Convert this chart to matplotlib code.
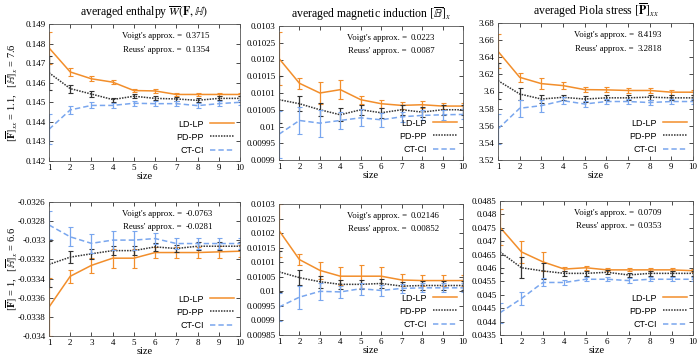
import matplotlib
matplotlib.use("Agg")
import matplotlib.pyplot as plt
import numpy as np

plt.rcParams['font.family'] = ['Liberation Serif', 'DejaVu Serif']
plt.rcParams['mathtext.fontset'] = 'stix'

sizes = [1, 2, 3, 4, 5, 6, 7, 8, 9, 10]
series_names = ["LD-LP", "PD-PP", "CT-CI"]

# top row: F_xx = 1.1, H_x = 7.6
enth_top = [
    [0.14778, 0.14655, 0.14620, 0.14603, 0.14560, 0.14558, 0.14540, 0.14540, 0.14540, 0.14540],
    [0.14651, 0.14570, 0.14542, 0.14514, 0.14531, 0.14520, 0.14517, 0.14510, 0.14520, 0.14520],
    [0.14362, 0.14461, 0.14484, 0.14484, 0.14495, 0.14493, 0.14493, 0.14483, 0.14493, 0.14500],
]
enth_top_err = [
    [0.0008, 0.0002, 0.00013, 0.00011, 0.00008, 0.00008, 0.00008, 0.00008, 0.00008, 0.00008],
    [0.00086, 0.0002, 0.00015, 0.0001, 0.0001, 0.0001, 0.0001, 0.0001, 0.0001, 0.0001],
    [0.00077, 0.00022, 0.00015, 0.00012, 0.00012, 0.00012, 0.00012, 0.00012, 0.00012, 0.00012],
]
bind_top = [
    [0.010203, 0.010129, 0.010100, 0.010110, 0.010080, 0.010068, 0.010063, 0.010065, 0.010061, 0.010061],
    [0.010080, 0.010068, 0.010050, 0.010035, 0.010050, 0.010041, 0.010050, 0.010043, 0.010050, 0.010050],
    [0.009977, 0.010018, 0.010010, 0.010018, 0.010026, 0.010020, 0.010029, 0.010033, 0.010035, 0.010036],
]
bind_top_err = [
    [0.00008, 0.000017, 0.000033, 0.000028, 0.000012, 0.000012, 0.00001, 0.00001, 0.00001, 0.00001],
    [0.00007, 0.000022, 0.00002, 0.00002, 0.000015, 0.000015, 0.000015, 0.000015, 0.000015, 0.000015],
    [0.00007, 0.00004, 0.00004, 0.000025, 0.000025, 0.00002, 0.000015, 0.000015, 0.000015, 0.000015],
]
piola_top = [
    [3.6469, 3.6166, 3.6092, 3.6069, 3.6022, 3.6019, 3.6012, 3.6012, 3.5992, 3.5992],
    [3.6127, 3.5971, 3.5912, 3.5932, 3.5912, 3.5926, 3.5926, 3.5934, 3.5926, 3.5926],
    [3.5563, 3.5804, 3.5835, 3.5893, 3.5854, 3.5883, 3.5883, 3.5871, 3.5883, 3.5883],
]
piola_top_err = [
    [0.02, 0.005, 0.006, 0.004, 0.003, 0.003, 0.003, 0.003, 0.003, 0.003],
    [0.021, 0.007, 0.005, 0.003, 0.003, 0.003, 0.003, 0.003, 0.003, 0.003],
    [0.018, 0.01, 0.007, 0.004, 0.004, 0.003, 0.003, 0.003, 0.003, 0.003],
]

# bottom row: F = 1, H_x = 6.6
enth_bot = [
    [-0.033698, -0.033376, -0.033262, -0.033187, -0.033187, -0.033128, -0.033128, -0.033128, -0.033121, -0.033114],
    [-0.033252, -0.033176, -0.033141, -0.033108, -0.033108, -0.033069, -0.033086, -0.033062, -0.033062, -0.033062],
    [-0.032840, -0.032964, -0.033032, -0.032998, -0.032998, -0.032982, -0.033034, -0.033034, -0.033034, -0.033034],
]
enth_bot_err = [
    [0.0003, 0.00007, 0.00008, 0.0001, 0.0001, 0.00006, 0.00006, 0.00006, 0.00006, 0.00006],
    [0.00024, 0.00006, 0.00005, 0.00005, 0.00005, 0.00004, 0.00004, 0.00004, 0.00004, 0.00004],
    [0.00015, 0.0001, 0.0001, 0.0001, 0.0001, 0.00006, 0.00006, 0.00006, 0.00006, 0.00006],
]
bind_bot = [
    [0.010209, 0.010109, 0.010072, 0.010052, 0.010052, 0.010052, 0.010039, 0.010037, 0.010037, 0.010037],
    [0.010067, 0.010047, 0.010033, 0.010024, 0.010024, 0.010027, 0.010018, 0.010020, 0.010020, 0.010020],
    [0.009946, 0.009980, 0.010000, 0.009998, 0.010009, 0.010003, 0.010010, 0.010012, 0.010012, 0.010012],
]
bind_bot_err = [
    [0.00009, 0.000018, 0.00003, 0.00003, 0.00004, 0.00003, 0.00002, 0.000018, 0.000018, 0.000018],
    [0.00007, 0.000025, 0.00002, 0.000015, 0.000015, 0.000015, 0.000015, 0.000015, 0.000015, 0.000015],
    [0.000048, 0.00004, 0.00003, 0.00002, 0.00002, 0.00002, 0.000015, 0.000015, 0.000015, 0.000015],
]
piola_bot = [
    [0.04752, 0.04660, 0.04623, 0.04596, 0.04601, 0.04593, 0.04593, 0.04593, 0.04593, 0.04590],
    [0.04660, 0.04601, 0.04589, 0.04580, 0.04580, 0.04584, 0.04574, 0.04580, 0.04580, 0.04580],
    [0.04433, 0.04486, 0.04546, 0.04546, 0.04558, 0.04558, 0.04553, 0.04558, 0.04558, 0.04558],
]
piola_bot_err = [
    [0.00067, 0.0004, 0.00035, 0.00008, 0.00007, 0.00006, 0.00006, 0.00006, 0.00006, 0.00006],
    [0.0008, 0.0004, 0.0003, 0.0001, 0.00008, 0.00008, 0.00008, 0.00008, 0.00008, 0.00008],
    [0.00037, 0.00025, 0.00015, 0.0001, 0.00008, 0.00008, 0.00008, 0.00008, 0.00008, 0.00008],
]

voigt = ["0.3715", "0.0223", "8.4193", "-0.0763", "0.02146", "0.0709"]
reuss = ["0.1354", "0.0087", "3.2818", "-0.0281", "0.00852", "0.0353"]

titles = [r"averaged enthalpy $\overline{W}(\mathbf{F}, \mathbb{H})$",
          r"averaged magnetic induction $[\overline{\mathbb{B}}]_x$",
          r"averaged Piola stress $[\overline{\mathbf{P}}]_{xx}$",
          "", "", ""]
row_labels = [r"$[\overline{\mathbf{F}}]_{xx}$ = 1.1,   $[\overline{\mathbb{H}}]_x$ = 7.6",
              r"$[\overline{\mathbf{F}}]$ = 1,   $[\overline{\mathbb{H}}]_x$ = 6.6"]

yticks = [
    (np.arange(0.142, 0.14901, 0.001), ["0.142", "0.143", "0.144", "0.145", "0.146", "0.147", "0.148", "0.149"]),
    (np.arange(0.0099, 0.010301, 0.00005), ["0.0099", "0.00995", "0.01", "0.01005", "0.0101", "0.01015", "0.0102", "0.01025", "0.0103"]),
    (np.arange(3.52, 3.6801, 0.02), ["3.52", "3.54", "3.56", "3.58", "3.6", "3.62", "3.64", "3.66", "3.68"]),
    (np.arange(-0.034, -0.03259, 0.0002), ["-0.034", "-0.0338", "-0.0336", "-0.0334", "-0.0332", "-0.033", "-0.0328", "-0.0326"]),
    (np.arange(0.00985, 0.010301, 0.00005), ["0.00985", "0.0099", "0.00995", "0.01", "0.01005", "0.0101", "0.01015", "0.0102", "0.01025", "0.0103"]),
    (np.arange(0.0435, 0.04851, 0.0005), ["0.0435", "0.044", "0.0445", "0.045", "0.0455", "0.046", "0.0465", "0.047", "0.0475", "0.048", "0.0485"]),
]

panels = [(enth_top, enth_top_err), (bind_top, bind_top_err), (piola_top, piola_top_err),
          (enth_bot, enth_bot_err), (bind_bot, bind_bot_err), (piola_bot, piola_bot_err)]

# axes boxes in pixels: left, top, right, bottom
boxes = [(49, 24, 240, 161), (279, 26, 463, 160), (498, 23, 693, 160),
         (49, 202, 240, 336), (279, 204, 463, 335), (500, 201, 693, 335)]

colors = ["#f28e2b", "#333333", "#79a6ee"]
styles = ["-", (0, (1, 0.8)), (0, (3.5, 2))]

W, H = 700, 355
fig = plt.figure(figsize=(7, 3.55), dpi=100)

for k in range(6):
    l, t, r, b = boxes[k]
    ax = fig.add_axes([l / W, 1 - b / H, (r - l) / W, (b - t) / H])
    vals, errs = panels[k]
    lines = []
    for s in range(3):
        ax.errorbar(sizes, vals[s], yerr=errs[s], fmt="none", ecolor=colors[s],
                    elinewidth=0.9, capsize=1.8, capthick=0.8)
        ln, = ax.plot(sizes, vals[s], color=colors[s], ls=styles[s], lw=1.1,
                      label=series_names[s])
        lines.append(ln)
    ax.set_xlim(1, 10)
    ax.set_xticks(sizes)
    tk, tl = yticks[k]
    ax.set_yticks(tk)
    ax.set_yticklabels(tl)
    ax.set_ylim(tk[0], tk[-1])
    ax.tick_params(direction="in", top=True, right=True, labelsize=6.5, length=3, width=0.5, pad=2.5)
    for sp in ax.spines.values():
        sp.set_linewidth(0.6)
        sp.set_color("#555555")
    ax.set_xlabel("size", fontsize=7.5, labelpad=0)
    if titles[k]:
        ax.set_title(titles[k], fontsize=8.5, pad=6)
    ax.text(0.695, 0.91, "Voigt's approx. =", transform=ax.transAxes, fontsize=6.3, va="center", ha="right")
    ax.text(0.695, 0.81, "Reuss' approx. =", transform=ax.transAxes, fontsize=6.3, va="center", ha="right")
    ax.text(0.715, 0.91, voigt[k], transform=ax.transAxes, fontsize=6.3, va="center")
    ax.text(0.715, 0.81, reuss[k], transform=ax.transAxes, fontsize=6.3, va="center")
    ax.legend(handles=lines, loc="lower right", frameon=False, markerfirst=False, handlelength=2.6,
              prop={"family": "Liberation Sans", "size": 6.5}, labelspacing=0.45,
              borderaxespad=0.3, handletextpad=0.7)
    if k % 3 == 0:
        ax.set_ylabel(row_labels[k // 3], fontsize=7.5)
        ax.yaxis.set_label_coords(-0.15, 0.5)

fig.savefig("out.png", dpi=100)
